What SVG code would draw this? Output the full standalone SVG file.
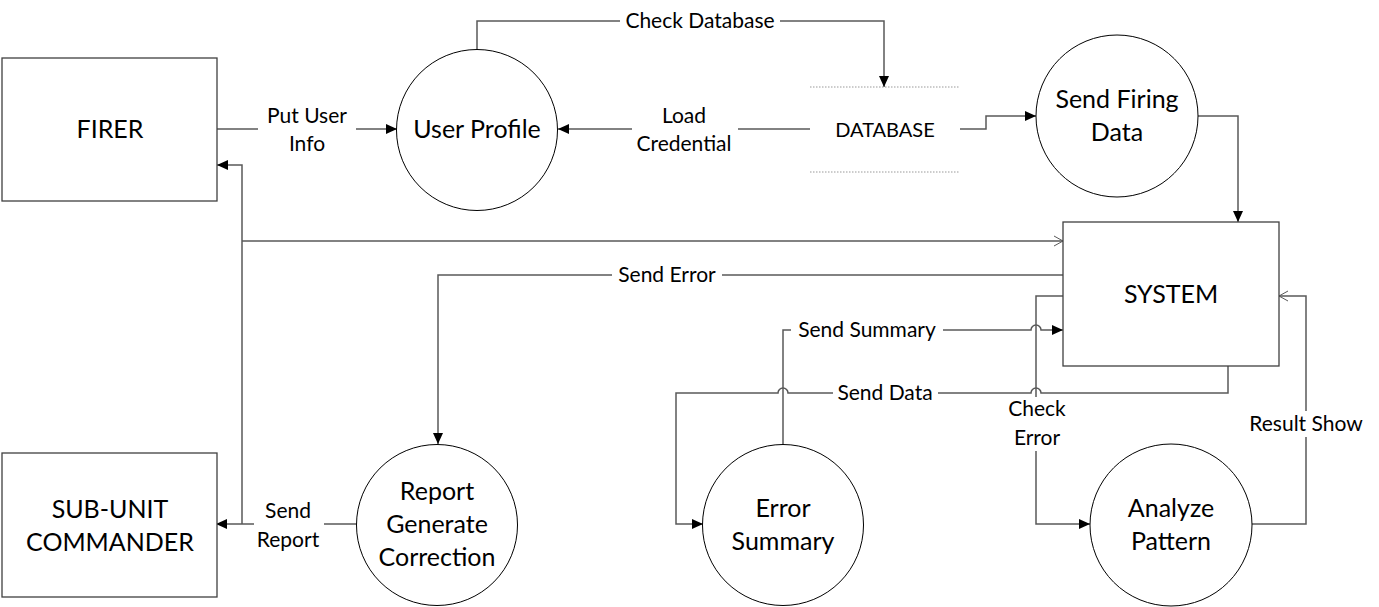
<svg xmlns="http://www.w3.org/2000/svg" width="1379" height="607" viewBox="0 0 1379 607">
<style>
.node{fill:#fff;stroke:#000;stroke-width:1}
.box{fill:#fff;stroke:#404040;stroke-width:1.3}
.nt{font-family:Lato,"Liberation Sans",sans-serif;font-size:25px;fill:#000;text-anchor:middle}
.lt{font-family:Lato,"Liberation Sans",sans-serif;font-size:21px;fill:#000;text-anchor:middle}
.c{fill:none;stroke:#595959;stroke-width:1.5}
.bg{fill:#fff}
</style>
<defs>
<marker id="a" markerUnits="userSpaceOnUse" markerWidth="12" markerHeight="10" refX="11" refY="5" orient="auto"><path d="M0,0 L11,5 L0,10 z" fill="#000"/></marker>
<marker id="o" markerUnits="userSpaceOnUse" markerWidth="12" markerHeight="12" refX="10" refY="6" orient="auto"><path d="M1,1 L10,6 L1,11" fill="none" stroke="#595959" stroke-width="1"/></marker>
</defs>
<rect width="1379" height="607" fill="#fff"/>
<g id="connectors">
<path class="c" d="M217,129 H397" marker-end="url(#a)"/>
<path class="c" d="M477,49 V21 H884 V87" marker-end="url(#a)"/>
<path class="c" d="M810,129 H558" marker-end="url(#a)"/>
<path class="c" d="M960,129 H986 V116 H1036" marker-end="url(#a)"/>
<path class="c" d="M1198,116 H1238 V222" marker-end="url(#a)"/>
<path class="c" d="M358,524 H216" marker-end="url(#a)"/>
<path class="c" d="M242,524 V165 H217" marker-end="url(#a)"/>
<path class="c" d="M242,241 H1063" marker-end="url(#o)"/>
<path class="c" d="M1063,275 H438 V444" marker-end="url(#a)"/>
<path class="c" d="M1063,296 H1036 V524 H1090" marker-end="url(#a)"/>
<path class="c" d="M783,444 V330 H1031 a5,5 0 0 1 10,0 H1063" marker-end="url(#a)"/>
<path class="c" d="M1228,366 V393 H1041 a5,5 0 0 0 -10,0 H788 a5,5 0 0 0 -10,0 H676 V524 H703" marker-end="url(#a)"/>
<path class="c" d="M1252,524 H1306 V296 H1279" marker-end="url(#o)"/>
<g id="labels">
<rect class="bg" x="258" y="103" width="98" height="54"/>
<text class="lt" x="307" y="123">Put User</text>
<text class="lt" x="307" y="151">Info</text>
<rect class="bg" x="620" y="8" width="160" height="26"/>
<text class="lt" x="700" y="28">Check Database</text>
<rect class="bg" x="632" y="103" width="106" height="54"/>
<text class="lt" x="684" y="123">Load</text>
<text class="lt" x="684" y="151">Credential</text>
<rect class="bg" x="612" y="262" width="110" height="26"/>
<text class="lt" x="667" y="282">Send Error</text>
<rect class="bg" x="791" y="317" width="152" height="26"/>
<text class="lt" x="867" y="337">Send Summary</text>
<rect class="bg" x="833" y="380" width="105" height="26"/>
<text class="lt" x="885" y="400">Send Data</text>
<rect class="bg" x="1004" y="397" width="66" height="54"/>
<text class="lt" x="1037" y="416">Check</text>
<text class="lt" x="1037" y="445">Error</text>
<rect class="bg" x="1244" y="411" width="124" height="26"/>
<text class="lt" x="1306" y="431">Result Show</text>
<rect class="bg" x="254" y="498" width="70" height="54"/>
<text class="lt" x="288" y="518">Send</text>
<text class="lt" x="288" y="547">Report</text>
</g>
</g>
<g id="firer">
<rect class="box" x="2" y="58" width="215" height="143"/>
<text class="nt" x="110" y="138">FIRER</text>
</g>
<g id="subunit">
<rect class="box" x="2" y="453" width="215" height="144"/>
<text class="nt" x="110" y="518">SUB-UNIT</text>
<text class="nt" x="110" y="551">COMMANDER</text>
</g>
<g id="userprofile">
<circle class="node" cx="477" cy="130" r="80.5"/>
<text class="nt" x="477" y="138">User Profile</text>
</g>
<g id="database">
<line x1="810" y1="87" x2="960" y2="87" stroke="#999" stroke-width="1" stroke-dasharray="1.5,1.5"/>
<line x1="810" y1="172" x2="960" y2="172" stroke="#999" stroke-width="1" stroke-dasharray="1.5,1.5"/>
<text class="lt" x="885" y="137" style="font-size:20px">DATABASE</text>
</g>
<g id="sendfiring">
<circle class="node" cx="1117" cy="116" r="81"/>
<text class="nt" x="1117" y="108">Send Firing</text>
<text class="nt" x="1117" y="141">Data</text>
</g>
<g id="system">
<rect class="box" x="1063" y="222" width="216" height="144"/>
<text class="nt" x="1171" y="303">SYSTEM</text>
</g>
<g id="report">
<circle class="node" cx="437" cy="525" r="80.5"/>
<text class="nt" x="437" y="500">Report</text>
<text class="nt" x="437" y="533">Generate</text>
<text class="nt" x="437" y="566">Correction</text>
</g>
<g id="errorsummary">
<circle class="node" cx="783" cy="525" r="80.5"/>
<text class="nt" x="783" y="517">Error</text>
<text class="nt" x="783" y="550">Summary</text>
</g>
<g id="analyze">
<circle class="node" cx="1171" cy="525" r="81"/>
<text class="nt" x="1171" y="517">Analyze</text>
<text class="nt" x="1171" y="550">Pattern</text>
</g>
</svg>
